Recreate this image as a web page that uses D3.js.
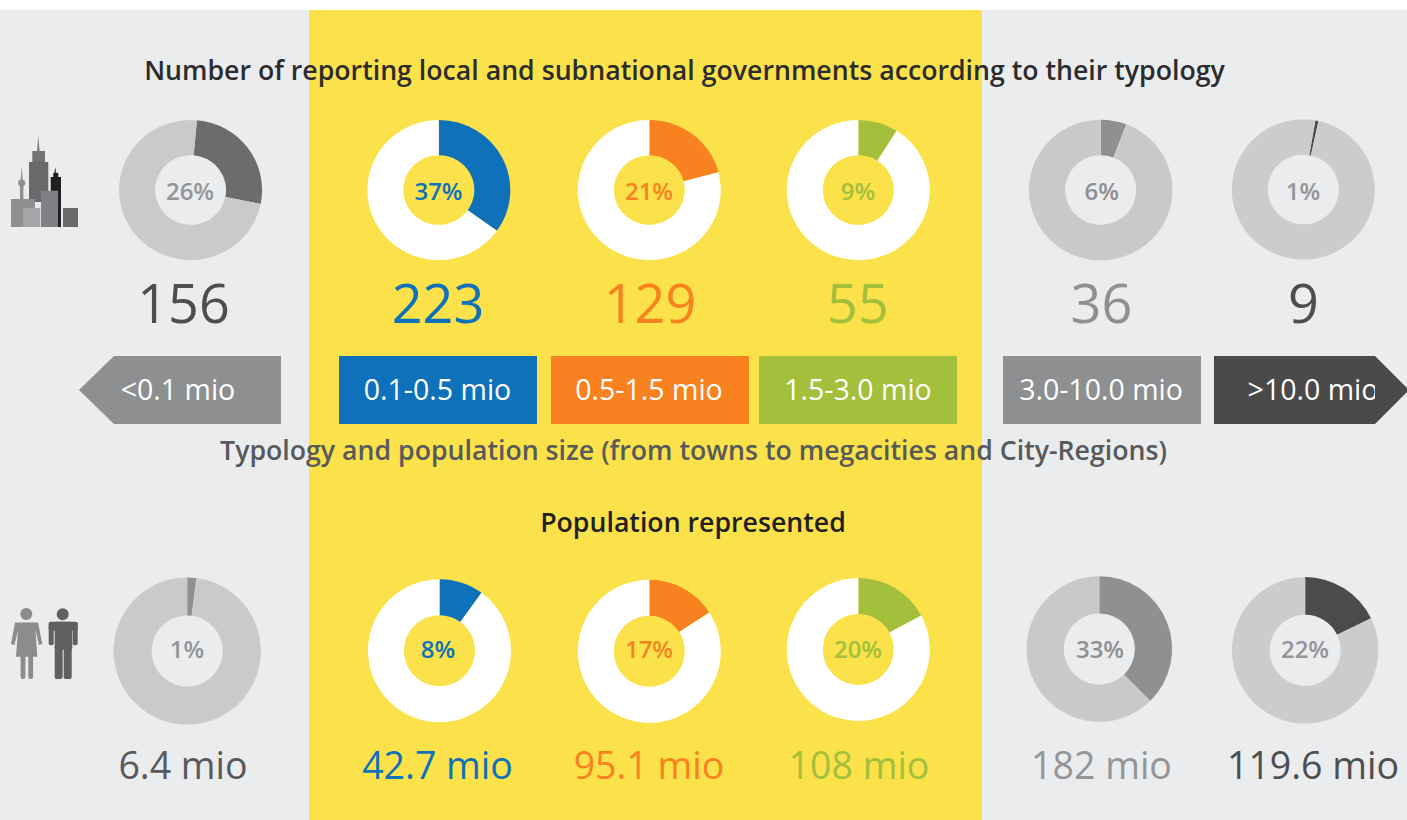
<!DOCTYPE html>
<html>
<head>
<meta charset="utf-8">
<script src="https://cdn.jsdelivr.net/npm/d3@7"></script>
<style>
  html, body { margin: 0; padding: 0; background: #fff; overflow: hidden; }
  svg { display: block; }
  text { font-family: "Open Sans", sans-serif; }
</style>
</head>
<body>
<div id="chart-area"></div>
<script>
// data
const sizeClasses = ["<0.1 mio", "0.1-0.5 mio", "0.5-1.5 mio", "1.5-3.0 mio", "3.0-10.0 mio", ">10.0 mio"]
const governmentCounts = ["156", "223", "129", "55", "36", "9"]
const governmentLabels = ["26%", "37%", "21%", "9%", "6%", "1%"]
// share of the ring the slice really covers, in percent (differs from the printed label)
const governmentSlices = [26.8, 34.9, 20.9, 9, 5.8, 0.7]
const governmentOffsets = [1.4, 0, 0, 0, 0, 2.7]
const populationCounts = ["6.4 mio", "42.7 mio", "95.1 mio", "108 mio", "182 mio", "119.6 mio"]
const populationLabels = ["1%", "8%", "17%", "20%", "33%", "22%"]
const populationSlices = [2, 10, 15.9, 17.1, 37.7, 17.8]
const populationOffsets = [0, 0, 0, 0, 0, 0]

// layout
const WIDTH = 1407
const HEIGHT = 820
const topRings = [
  { cx: 190.6, cy: 190, r: 71.5 }, { cx: 438.8, cy: 190, r: 71.5 }, { cx: 649.3, cy: 190, r: 71.5 },
  { cx: 858.3, cy: 190, r: 71.5 }, { cx: 1100.7, cy: 190, r: 71.8 }, { cx: 1303.3, cy: 189.5, r: 71.5 }
]
const bottomRings = [
  { cx: 187.2, cy: 651, r: 73.6 }, { cx: 439.5, cy: 650.7, r: 71.5 }, { cx: 649.3, cy: 651.3, r: 71.5 },
  { cx: 858.3, cy: 649.5, r: 71.5 }, { cx: 1099.3, cy: 649, r: 72.8 }, { cx: 1305.2, cy: 650.3, r: 73.2 }
]
const HOLE = 35.5
const topLabelX = [190, 438.5, 649, 858, 1101.7, 1303]
const bottomLabelX = [187, 438, 649, 858, 1100, 1305]
const countX = [183.5, 438, 650, 858, 1101.5, 1303.5]
const mioX = [183, 437.5, 649, 859, 1101.5, 1313]
const boxLabelX = [178, 437.5, 649, 858, 1101, 1313]

// styles
const GREY_BG = "#ebecee"
const YELLOW = "#fbe24b"
const sliceColors = ["#6b6c6c", "#0f71b9", "#f8821f", "#a3bf3c", "#8f9092", "#4a4b4b"]
const bottomSliceColors = ["#8f9092", "#0f71b9", "#f8821f", "#a3bf3c", "#8f9092", "#4a4b4b"]
const restColors = ["#c9cacc", "#ffffff", "#ffffff", "#ffffff", "#c8cac9", "#cbcccd"]
const pctColors = ["#939598", "#0f71b9", "#f8821f", "#a3bf3c", "#8f9092", "#939598"]
const countColors = ["#4d4e50", "#0f71b9", "#f8821f", "#a3bf3c", "#8f9092", "#4d4e50"]
const mioColors = ["#58595b", "#0f71b9", "#f8821f", "#a3bf3c", "#939598", "#4d4e50"]
const boxColors = ["#8e8f91", "#0f71b9", "#f8821f", "#a3bf3c", "#8e8f91", "#4a4a4a"]

const svg = d3.select("#chart-area").append("svg")
  .attr("width", WIDTH)
  .attr("height", HEIGHT)

// background bands
svg.append("rect").attr("y", 10).attr("width", WIDTH).attr("height", HEIGHT - 10).attr("fill", GREY_BG)
svg.append("rect").attr("x", 309).attr("y", 10).attr("width", 673).attr("height", HEIGHT - 10).attr("fill", YELLOW)

// headings
function heading(txt, x, y, color) {
  svg.append("text")
    .attr("x", x).attr("y", y)
    .attr("text-anchor", "middle")
    .attr("font-size", "26.7px")
    .attr("font-weight", 600)
    .attr("fill", color)
    .text(txt)
}
heading("Number of reporting local and subnational governments according to their typology", 684.5, 80, "#2c2c2e")
heading("Typology and population size (from towns to megacities and City-Regions)", 693.5, 460, "#58595b")
heading("Population represented", 693, 532, "#231f20")

// rings (the top row is slightly squashed in the original)
function drawRings(rings, slices, offsets, labels, labelX, colors, labelY, squash) {
  rings.forEach((ring, i) => {
    const start = offsets[i] / 100 * 2 * Math.PI
    const pie = d3.pie().sort(null).startAngle(start).endAngle(start + 2 * Math.PI)
    const arc = d3.arc().innerRadius(HOLE).outerRadius(ring.r)
    const g = svg.append("g")
      .attr("class", "ring")
      .attr("transform", `translate(${ring.cx}, ${ring.cy}) scale(1, ${squash})`)
    g.selectAll("path")
      .data(pie([slices[i], 100 - slices[i]]))
      .join("path")
      .attr("d", arc)
      .attr("fill", (d, j) => j === 0 ? colors[i] : restColors[i])
    svg.append("text")
      .attr("x", labelX[i])
      .attr("y", labelY)
      .attr("text-anchor", "middle")
      .attr("font-size", "24px")
      .attr("font-weight", 600)
      .attr("fill", pctColors[i])
      .text(labels[i])
  })
}
drawRings(topRings, governmentSlices, governmentOffsets, governmentLabels, topLabelX, sliceColors, 200, 0.98)
drawRings(bottomRings, populationSlices, populationOffsets, populationLabels, bottomLabelX, bottomSliceColors, 658, 1)

// big numbers
svg.selectAll(".count")
  .data(governmentCounts)
  .join("text")
  .attr("class", "count")
  .attr("x", (d, i) => countX[i])
  .attr("y", 323)
  .attr("text-anchor", "middle")
  .attr("font-size", "54px")
  .attr("fill", (d, i) => countColors[i])
  .text(d => d)

svg.selectAll(".mio")
  .data(populationCounts)
  .join("text")
  .attr("class", "mio")
  .attr("x", (d, i) => mioX[i])
  .attr("y", 779)
  .attr("text-anchor", "middle")
  .attr("font-size", "37.5px")
  .attr("fill", (d, i) => mioColors[i])
  .text(d => d)

// size class boxes
const BOX_TOP = 356
const BOX_BOTTOM = 424
const BOX_MID = 390
const boxShapes = [
  [[79, BOX_MID], [114, BOX_TOP], [281, BOX_TOP], [281, BOX_BOTTOM], [114, BOX_BOTTOM]],
  [[339, BOX_TOP], [537, BOX_TOP], [537, BOX_BOTTOM], [339, BOX_BOTTOM]],
  [[551, BOX_TOP], [749, BOX_TOP], [749, BOX_BOTTOM], [551, BOX_BOTTOM]],
  [[759, BOX_TOP], [957, BOX_TOP], [957, BOX_BOTTOM], [759, BOX_BOTTOM]],
  [[1003, BOX_TOP], [1201, BOX_TOP], [1201, BOX_BOTTOM], [1003, BOX_BOTTOM]],
  [[1214, BOX_TOP], [1375, BOX_TOP], [1409, BOX_MID], [1375, BOX_BOTTOM], [1214, BOX_BOTTOM]]
]
svg.selectAll(".box")
  .data(boxShapes)
  .join("polygon")
  .attr("class", "box")
  .attr("points", d => d.join(" "))
  .attr("fill", (d, i) => boxColors[i])

// the last label is cut off by the arrow head in the original
svg.append("clipPath").attr("id", "last-box")
  .append("rect").attr("x", 1214).attr("y", BOX_TOP).attr("width", 161).attr("height", 68)

svg.selectAll(".box-label")
  .data(sizeClasses)
  .join("text")
  .attr("class", "box-label")
  .attr("x", (d, i) => boxLabelX[i])
  .attr("y", 400)
  .attr("text-anchor", "middle")
  .attr("font-size", "28.5px")
  .attr("fill", "#ffffff")
  .attr("clip-path", (d, i) => i === 5 ? "url(#last-box)" : null)
  .text(d => d)

// city icon
const city = svg.append("g").attr("class", "city-icon")
const cityPoly = (pts, fill) => city.append("polygon").attr("points", pts).attr("fill", fill)
const cityRect = (x, y, w, h, fill) => city.append("rect")
  .attr("x", x).attr("y", y).attr("width", w).attr("height", h).attr("fill", fill)
cityPoly("38.3,136 39.6,151 37,151", "#7a7b7d")
cityRect(32.3, 151, 12.7, 12, "#727375")
cityRect(29, 162, 19.3, 40, "#68696b")
cityPoly("55.3,167 56.5,174 54,174", "#444")
cityRect(53.3, 173, 5, 5, "#231f20")
cityRect(50.7, 177, 10.3, 50, "#231f20")
cityPoly("21.7,166.5 23,183 20.4,183", "#8d8e90")
city.append("ellipse").attr("cx", 21.7).attr("cy", 183).attr("rx", 3.6).attr("ry", 3.2).attr("fill", "#8d8e90")
cityRect(20, 185, 3.4, 15, "#8d8e90")
cityRect(11, 199, 24, 28, "#8e8f91")
cityRect(23.3, 208, 17, 19, "#a4a5a7")
cityRect(41, 190.7, 17, 36.3, "#808184")
cityRect(63, 208, 15, 19, "#69696b")

// people icon
const people = svg.append("g").attr("class", "people-icon")
const WOMAN = "#8b8c8e"
const MAN = "#5f6062"
const bar = (x, y, w, h, fill) => people.append("rect")
  .attr("x", x).attr("y", y).attr("width", w).attr("height", h).attr("rx", Math.min(w, 4) / 2).attr("fill", fill)
people.append("circle").attr("cx", 26.3).attr("cy", 614).attr("r", 6).attr("fill", WOMAN)
people.append("polygon")
  .attr("points", "15,622.5 37,622.5 38,622.5 42.3,644 39,645 35.5,630 37.3,656.7 16,656.7 18,630 14.5,645 11,644")
  .attr("fill", WOMAN)
bar(20.6, 654, 4.8, 25, WOMAN)
bar(28.3, 654, 4.8, 25, WOMAN)
people.append("circle").attr("cx", 62.7).attr("cy", 614.3).attr("r", 6).attr("fill", MAN)
bar(48.7, 621.7, 29, 9, MAN)
bar(48.7, 622, 5, 23.3, MAN)
bar(72.7, 622, 5, 23.3, MAN)
bar(54.7, 621.7, 17.6, 28, MAN)
bar(54.7, 645, 8, 34, MAN)
bar(63.7, 645, 8, 34, MAN)
</script>
</body>
</html>
